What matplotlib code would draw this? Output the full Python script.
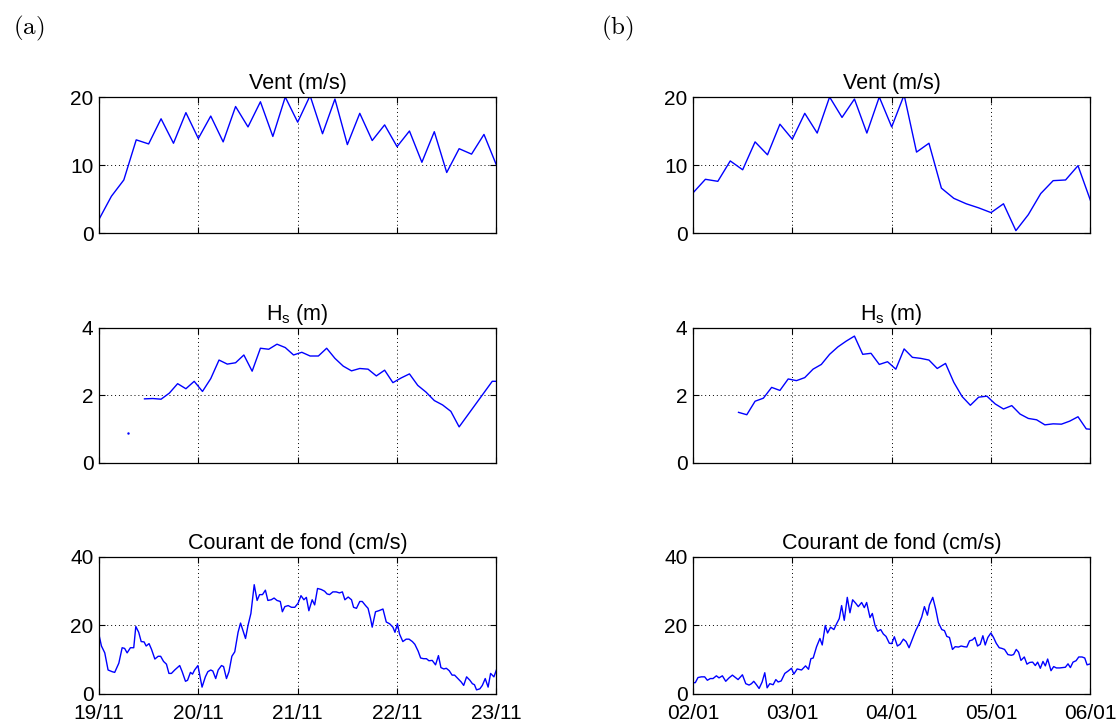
import numpy as np
import matplotlib
matplotlib.use("Agg")
import matplotlib.pyplot as plt

plt.rcParams['font.family'] = ['Liberation Sans', 'DejaVu Sans']
plt.rcParams['mathtext.fontset'] = 'custom'
plt.rcParams['mathtext.rm'] = 'Liberation Sans'
plt.rcParams['mathtext.it'] = 'Liberation Sans'

# ---- data (time in hours from start of each 4-day window) ----
day_labels_a = ['19/11', '20/11', '21/11', '22/11', '23/11']
day_labels_b = ['02/01', '03/01', '04/01', '05/01', '06/01']

# wind, 3-hourly
wind_a = [2.0, 5.4, 7.8, 13.7, 13.1, 16.8, 13.2, 17.7, 13.9, 17.2, 13.4, 18.6, 15.6,
          19.3, 14.2, 20.0, 16.3, 20.2, 14.6, 19.7, 13.0, 17.6, 13.6, 15.9, 12.7, 15.0,
          10.4, 14.9, 8.9, 12.4, 11.6, 14.5, 10.0]
wind_b = [5.9, 7.9, 7.6, 10.6, 9.3, 13.4, 11.5, 16.0, 13.8, 17.6, 14.7, 20.0, 17.0,
          19.7, 14.7, 20.0, 15.6, 20.3, 11.9, 13.2, 6.6, 5.1, 4.3, 3.7, 3.0, 4.3,
          0.35, 2.7, 5.8, 7.7, 7.8, 9.9, 4.8]

# significant wave height, 2-hourly (gaps = missing)
hs_a_dot_t = [7]
hs_a_dot = [0.88]
hs_a_t = [11, 13, 15, 17, 19, 21, 23, 25, 27, 29, 31, 33, 35, 37, 39, 41, 43, 45, 47,
          49, 51, 53, 55, 57, 59, 61, 63, 65, 67, 69, 71, 73, 75, 77, 79, 81, 83, 85,
          87, 95, 96]
hs_a = [1.90, 1.91, 1.89, 2.07, 2.35, 2.20, 2.42, 2.12, 2.50, 3.05, 2.93, 2.97, 3.20,
        2.72, 3.40, 3.37, 3.52, 3.42, 3.20, 3.28, 3.17, 3.17, 3.40, 3.10, 2.87, 2.73,
        2.80, 2.78, 2.58, 2.75, 2.38, 2.52, 2.64, 2.30, 2.10, 1.85, 1.72, 1.53, 1.07,
        2.42, 2.42]
hs_b_t = [11, 13, 15, 17, 19, 21, 23, 25, 27, 29, 31, 33, 35, 37, 39, 41, 43, 45, 47,
          49, 51, 53, 55, 57, 59, 61, 63, 65, 67, 69, 71, 73, 75, 77, 79, 81, 83, 85,
          87, 89, 91, 93, 95, 96]
hs_b = [1.50, 1.43, 1.83, 1.92, 2.24, 2.15, 2.49, 2.44, 2.53, 2.78, 2.92, 3.22, 3.44,
        3.61, 3.76, 3.22, 3.25, 2.92, 3.00, 2.78, 3.38, 3.13, 3.10, 3.05, 2.80, 2.95,
        2.39, 1.97, 1.71, 1.95, 1.98, 1.75, 1.60, 1.70, 1.45, 1.32, 1.28, 1.13, 1.16,
        1.15, 1.24, 1.37, 1.01, 1.00]

# bottom current
cur_a_t = [0.0, 0.6, 1.4, 2.2, 3.2, 3.8, 4.8, 5.6, 6.2, 6.8,
           7.6, 8.4, 8.9, 9.6, 10.2, 10.9, 11.4, 12.1, 12.7, 13.5,
           14.3, 14.9, 15.6, 16.3, 16.9, 17.5, 18.3, 19.5, 20.1, 20.9,
           21.4, 22.1, 22.6, 23.1, 23.9, 24.9, 25.7, 26.3, 27.0, 27.5,
           28.2, 28.8, 29.6, 30.1, 30.8, 31.4, 32.1, 32.8, 33.6, 34.2,
           34.8, 35.4, 36.0, 36.7, 37.5, 38.2, 38.8, 39.5, 40.2, 40.8,
           41.6, 42.3, 43.0, 43.8, 44.3, 44.9, 45.7, 46.5, 47.3, 48.1,
           48.8, 49.5, 50.1, 50.7, 51.5, 52.1, 52.8, 53.7, 54.5, 55.1,
           55.7, 56.5, 57.3, 58.1, 58.8, 59.4, 60.2, 61.0, 61.5, 62.2,
           63.0, 63.6, 64.4, 65.0, 65.6, 66.0, 66.8, 67.6, 68.6, 69.4,
           70.2, 71.0, 71.5, 72.1, 72.6, 73.4, 74.2, 74.9, 75.7, 76.3,
           77.1, 77.7, 78.4, 79.1, 79.7, 80.5, 81.3, 82.0, 82.6, 83.3,
           83.9, 84.6, 85.3, 85.9, 86.7, 87.5, 88.1, 88.8, 89.6, 90.2,
           90.7, 91.2, 92.0, 92.6, 93.3, 94.0, 94.6, 95.4, 96.0]
cur_a = [17.3, 14.0, 12.0, 7.0, 6.5, 6.3, 9.0, 13.5, 13.3, 12.0,
         13.5, 13.5, 19.7, 18.0, 15.3, 15.2, 14.0, 14.7, 13.0, 10.2,
         11.0, 11.0, 9.5, 8.7, 6.0, 6.0, 7.0, 8.3, 6.5, 3.7,
         4.0, 6.3, 5.8, 7.0, 8.3, 2.0, 5.0, 6.5, 7.0, 6.7,
         4.5, 7.0, 8.3, 8.0, 4.5, 6.5, 11.0, 12.3, 18.0, 20.7,
         18.5, 16.2, 20.0, 23.5, 31.9, 27.3, 29.0, 29.0, 30.3, 27.3,
         27.5, 28.0, 27.3, 27.0, 24.0, 25.5, 25.8, 25.3, 25.3, 26.5,
         28.7, 27.5, 28.2, 24.3, 27.5, 26.0, 30.8, 30.5, 30.0, 29.2,
         29.0, 29.8, 29.8, 29.5, 29.8, 27.5, 28.3, 27.5, 25.3, 25.0,
         27.0, 27.0, 25.8, 25.0, 22.0, 19.5, 24.0, 24.3, 24.8, 21.0,
         20.5, 19.5, 18.0, 20.5, 17.5, 15.3, 16.0, 16.0, 15.3, 14.5,
         12.5, 10.5, 10.3, 10.3, 9.7, 9.8, 8.5, 11.2, 7.7, 7.3,
         7.5, 6.8, 5.5, 5.5, 4.5, 3.5, 2.5, 5.0, 4.0, 3.0,
         2.7, 1.2, 1.5, 2.5, 4.5, 2.0, 6.0, 5.0, 7.0]

cur_b_t = [0.0, 0.56, 1.21, 2.02, 2.82, 3.47, 4.19, 4.84, 5.65, 6.29,
           7.10, 7.91, 8.71, 9.52, 10.25, 10.89, 11.94, 12.75, 13.55, 14.12,
           14.68, 15.33, 15.97, 16.70, 17.34, 17.91, 18.55, 19.36, 20.01, 20.57,
           21.30, 22.18, 22.99, 23.80, 24.36, 25.17, 26.22, 27.19, 27.91, 28.48,
           29.04, 29.85, 30.66, 31.22, 31.95, 32.51, 33.24, 34.04, 34.69, 35.33,
           35.90, 36.54, 37.27, 37.91, 38.56, 39.29, 39.93, 40.74, 41.38, 41.95,
           42.76, 43.32, 43.97, 44.61, 45.34, 45.98, 46.63, 47.43, 48.00, 48.64,
           49.37, 50.02, 50.82, 51.47, 52.19, 52.99, 53.80, 54.61, 55.26, 55.90,
           56.63, 57.11, 57.92, 58.64, 59.29, 60.10, 60.74, 61.31, 61.95, 62.68,
           63.33, 64.13, 64.78, 65.50, 66.15, 66.80, 67.52, 68.09, 68.73, 69.38,
           70.02, 70.59, 71.23, 71.96, 72.60, 73.25, 73.97, 74.62, 75.26, 76.07,
           76.88, 77.44, 78.09, 78.65, 79.22, 80.03, 80.67, 81.32, 82.04, 82.69,
           83.25, 83.90, 84.54, 85.11, 85.67, 86.48, 87.13, 87.77, 88.58, 89.38,
           89.95, 90.59, 91.16, 91.80, 92.53, 93.18, 93.98, 94.63, 95.19, 96.0]
cur_b = [3.3, 3.3, 4.8, 5.0, 5.0, 4.0, 4.5, 4.5, 5.3, 4.7,
         5.3, 3.7, 4.7, 5.5, 4.8, 4.2, 5.6, 3.0, 2.6, 3.0,
         3.7, 2.7, 1.6, 3.5, 6.2, 1.8, 3.0, 2.7, 4.2, 3.5,
         3.8, 6.0, 6.7, 7.5, 5.8, 7.3, 7.0, 8.2, 7.2, 10.3,
         10.5, 13.8, 16.2, 14.3, 20.0, 17.8, 19.5, 18.8, 20.5, 22.0,
         25.8, 21.5, 28.2, 23.7, 27.5, 26.5, 25.5, 26.7, 25.2, 26.7,
         22.3, 23.5, 20.0, 18.3, 18.8, 17.5, 16.8, 14.8, 14.7, 16.7,
         14.0, 14.5, 16.0, 15.3, 13.5, 16.0, 18.5, 20.5, 22.5, 25.5,
         23.0, 26.0, 28.2, 24.7, 20.8, 18.8, 18.5, 16.8, 16.5, 13.0,
         13.8, 13.7, 14.0, 13.8, 13.7, 15.5, 15.8, 16.5, 14.0, 14.5,
         17.0, 14.3, 16.5, 17.8, 16.5, 14.8, 13.5, 13.3, 13.0, 11.5,
         11.3, 11.5, 13.0, 12.2, 9.8, 10.8, 8.7, 9.2, 9.3, 8.3,
         9.3, 7.5, 9.5, 8.2, 10.2, 6.8, 8.0, 7.6, 7.6, 7.7,
         7.8, 8.8, 7.7, 9.3, 9.7, 10.8, 10.8, 10.5, 8.5, 8.8]

wind_t = np.arange(len(wind_a)) * 3.0

fig = plt.figure(figsize=(11.17, 7.25), dpi=100)

lefts = [0.0886, 0.6204]
width = 0.3558
rows = [(0.6786, 0.1876), (0.3614, 0.1862), (0.0428, 0.189)]
titles = ['Vent (m/s)', r'H$_{\rm s}$ (m)', 'Courant de fond (cm/s)']
yticks = [[0, 10, 20], [0, 2, 4], [0, 20, 40]]

series = [
    (wind_t, wind_a), (hs_a_t, hs_a), (cur_a_t, cur_a),
    (wind_t, wind_b), (hs_b_t, hs_b), (cur_b_t, cur_b),
]
daylabels = [day_labels_a, day_labels_b]

for col in range(2):
    for row in range(3):
        b, h = rows[row]
        ax = fig.add_axes([lefts[col], b, width, h])
        t, v = series[col * 3 + row]
        ax.plot(t, v, color='#0000ff', lw=1.0)
        if col == 0 and row == 1:
            ax.plot(hs_a_dot_t, hs_a_dot, '.', color='#0000ff', ms=1.5)
        ax.set_xlim(0, 96)
        ax.set_ylim(yticks[row][0], yticks[row][-1])
        ax.set_xticks([0, 24, 48, 72, 96])
        ax.set_yticks(yticks[row])
        if row == 2:
            ax.set_xticklabels(daylabels[col])
        else:
            ax.set_xticklabels([])
        ax.tick_params(direction='in', length=4, width=0.8, labelsize=15,
                       top=True, right=True)
        ax.tick_params(axis='x', pad=7)
        ax.tick_params(axis='y', pad=4)
        ax.grid(True, color='black', linestyle=(0, (1, 3)), lw=0.7)
        for s in ax.spines.values():
            s.set_linewidth(0.9)
        ax.set_title(titles[row], fontsize=15.5, pad=6)

fig.text(0.012, 0.961, r'$\mathrm{(a)}$', fontsize=18, math_fontfamily='cm',
         va='center')
fig.text(0.538, 0.961, r'$\mathrm{(b)}$', fontsize=18, math_fontfamily='cm',
         va='center')

fig.savefig('out.png', dpi=100)
